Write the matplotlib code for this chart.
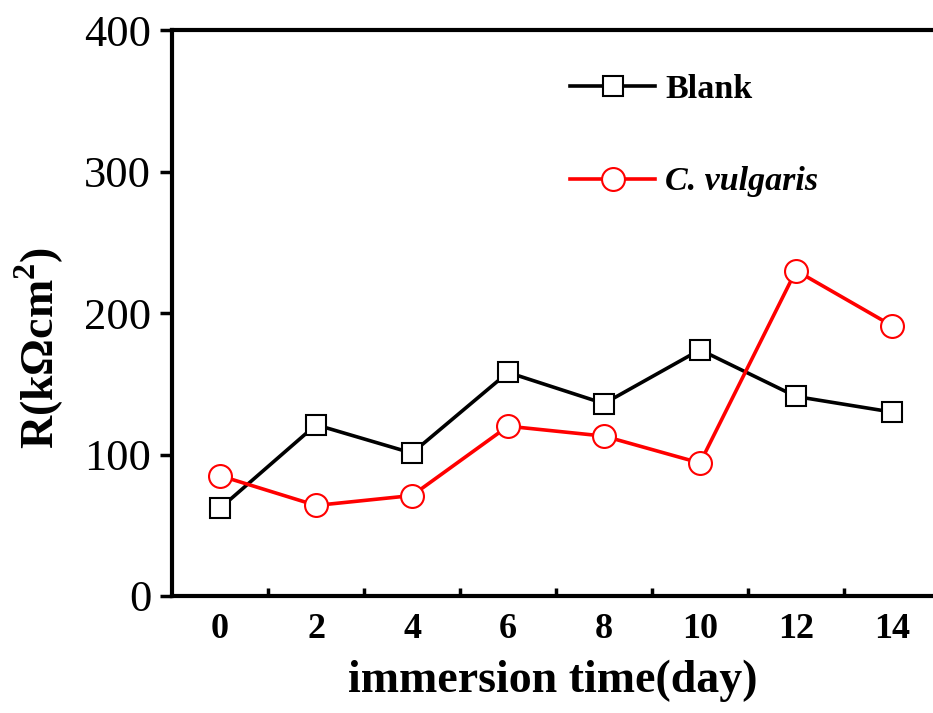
import matplotlib
matplotlib.use("Agg")
import matplotlib.pyplot as plt
from matplotlib.ticker import FixedLocator

plt.rcParams['font.family'] = ['Liberation Serif', 'DejaVu Serif']
plt.rcParams['mathtext.fontset'] = 'custom'
plt.rcParams['mathtext.rm'] = 'Liberation Serif'
plt.rcParams['mathtext.bf'] = 'Liberation Serif:bold'

# immersion time (day)
days = [0, 2, 4, 6, 8, 10, 12, 14]
# charge transfer resistance, kOhm cm^2
blank = [62, 121, 101, 158, 136, 174, 141, 130]
c_vulgaris = [85, 64, 71, 120, 113, 94, 230, 191]

x_ticks = [0, 2, 4, 6, 8, 10, 12, 14]
y_ticks = [0, 100, 200, 300, 400]

fig = plt.figure(figsize=(9.33, 7.13), dpi=100)
ax = fig.add_axes([0.1844, 0.1641, 0.8156, 0.7938])

ax.plot(days, blank, color='black', lw=2.6, marker='s', ms=13.7,
        mfc='white', mec='black', mew=1.5, label='Blank', zorder=3)
ax.plot(days, c_vulgaris, color='#ff0000', lw=2.6, marker='o', ms=16.5,
        mfc='white', mec='#ff0000', mew=1.5, label='C. vulgaris', zorder=3)

ax.set_xlim(-1, 14.854)
ax.set_ylim(0, 400)

ax.spines['right'].set_visible(False)
for s in ('left', 'bottom', 'top'):
    ax.spines[s].set_linewidth(3)

ax.set_xticks(x_ticks)
ax.set_xticklabels([str(v) for v in x_ticks], fontsize=26, fontweight='bold')
ax.xaxis.set_minor_locator(FixedLocator([1, 3, 5, 7, 9, 11, 13]))
ax.tick_params(axis='x', which='major', length=0, pad=12)
ax.tick_params(axis='x', which='minor', direction='in', length=6, width=2.5)

ax.set_yticks(y_ticks)
ax.set_yticklabels([str(v) for v in y_ticks], fontsize=32)
ax.tick_params(axis='y', which='major', direction='out', length=9, width=2.5, pad=6)

ax.set_xlabel('immersion time(day)', fontsize=33, fontweight='bold', labelpad=10)
ax.set_ylabel(r'R(kΩcm$^{\mathbf{2}}$)', fontsize=33, fontweight='bold')
ax.yaxis.set_label_coords(-0.139, 0.438)

leg = ax.legend(loc='upper left', bbox_to_anchor=(0.523, 0.922), frameon=False,
                borderpad=0, borderaxespad=0, handlelength=2.5, handletextpad=0.3,
                labelspacing=1.8, prop={'size': 24.5, 'weight': 'bold'})
leg.get_texts()[1].set_fontstyle('italic')

fig.savefig('out.png', dpi=100)
